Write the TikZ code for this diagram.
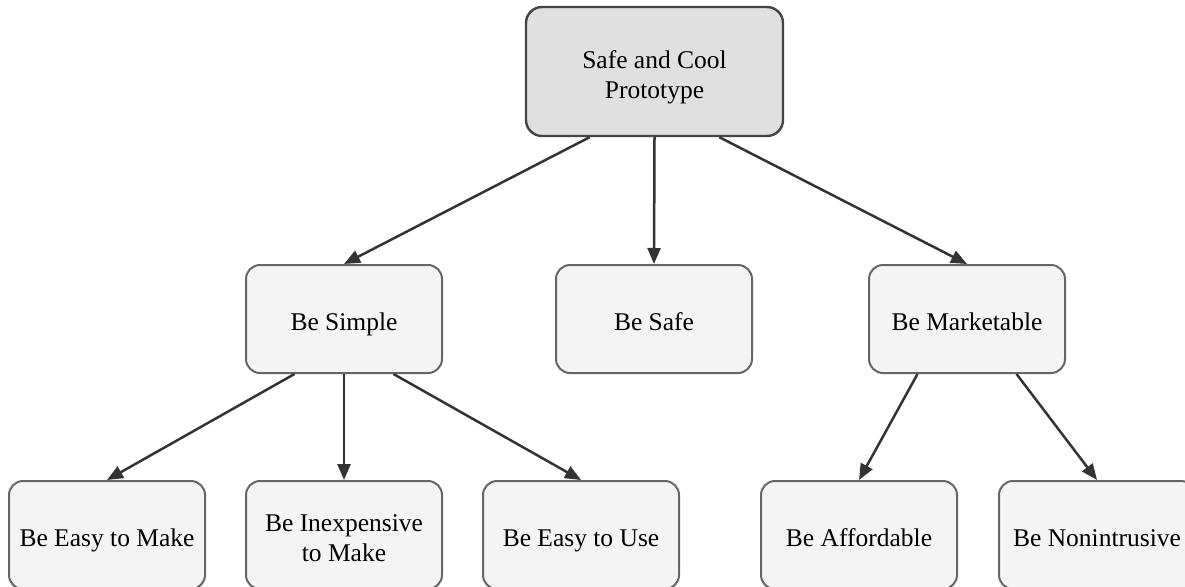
\documentclass[tikz,border=0pt]{standalone}
\usepackage{fontspec}
\setmainfont{Liberation Serif}
\usepackage{tikz}
\usetikzlibrary{positioning, arrows.meta, calc}
\definecolor{boxline}{HTML}{666666}
\definecolor{rootline}{HTML}{444444}
\definecolor{linkline}{HTML}{333333}
\newcommand{\toppad}{\rule{0pt}{32pt}}
\tikzstyle{goal} = [rectangle, rounded corners=16pt, minimum width=257pt, minimum height=129pt, text centered, align=center, line width=2.4pt, draw=rootline, fill={rgb,255:red,224;green,224;blue,224}, font=\fontsize{25.5}{30}\selectfont]
\tikzstyle{sub} = [rectangle, rounded corners=14pt, minimum width=196pt, minimum height=108pt, text centered, align=center, line width=2pt, draw=boxline, fill={rgb,255:red,244;green,244;blue,244}, font=\fontsize{25.5}{30}\selectfont]
\tikzstyle{arrow} = [line width=2.5pt, draw=linkline, -{Triangle[length=16pt,width=13pt]}]

\begin{document}
\begin{tikzpicture}[x=1pt, y=1pt]
\useasboundingbox (0,0) rectangle (1185,-586);
\node (root) [goal] at (654.5,-71.5) {\toppad Safe and Cool\\Prototype\strut};
\node (simple) [sub] at (344,-319) {\toppad Be Simple\strut};
\node (safe) [sub] at (654,-319) {\toppad Be Safe\strut};
\node (market) [sub] at (967,-319) {\toppad Be Marketable\strut};
\node (easymake) [sub] at (107,-535) {\toppad Be Easy to Make\strut};
\node (cheap) [sub, right=39pt of easymake] {\toppad Be Inexpensive\\to Make\strut};
\node (easyuse) [sub, right=39pt of cheap] {\toppad Be Easy to Use\strut};
\node (afford) [sub] at (859,-535) {\toppad Be Affordable\strut};
\node (nonintrusive) [sub, right=40pt of afford] {\toppad Be Nonintrusive\strut};
\draw [arrow] ($(root.south)!0.5!(root.south west)$) -- (simple.north);
\draw [arrow] (root.south) -- (safe.north);
\draw [arrow] ($(root.south)!0.5!(root.south east)$) -- (market.north);
\draw [arrow] ($(simple.south)!0.5!(simple.south west)$) -- (easymake.north);
\draw [arrow] (simple.south) -- (cheap.north);
\draw [arrow] ($(simple.south)!0.5!(simple.south east)$) -- (easyuse.north);
\draw [arrow] ($(market.south)!0.5!(market.south west)$) -- (afford.north);
\draw [arrow] ($(market.south)!0.5!(market.south east)$) -- (nonintrusive.north);
\end{tikzpicture}
\end{document}
